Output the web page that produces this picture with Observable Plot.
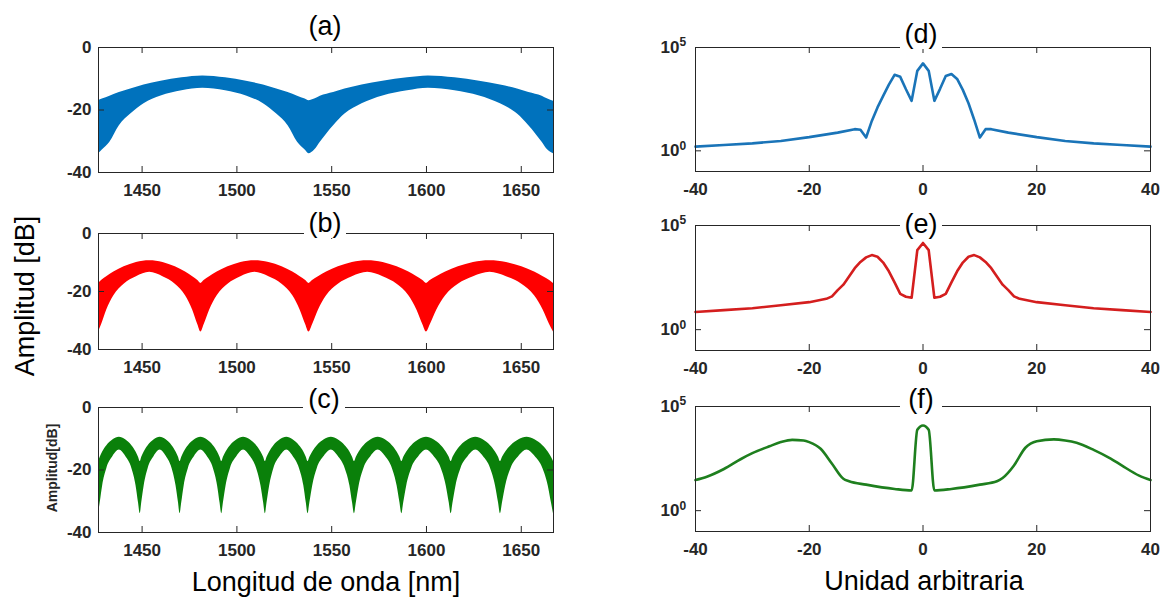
<!DOCTYPE html>
<html><head><meta charset="utf-8">
<script src="https://cdn.jsdelivr.net/npm/d3@7"></script>
<script src="https://cdn.jsdelivr.net/npm/@observablehq/plot@0.6"></script>
<style>
html,body{margin:0;padding:0;background:#fff;}
#chart{position:relative;width:1171px;height:601px;overflow:hidden;background:#fff;font-family:"Liberation Sans",Arial,sans-serif;}
#overlay{position:absolute;left:0;top:0;}
</style></head><body><div id="chart"></div>
<script>
// ---------- Left column: spectra (upper / lower envelope of the dense fringes, dB) ----------
const xTicksL = [1450, 1500, 1550, 1600, 1650];
const yTicksL = [-40, -20, 0];
const xTicksR = [-40, -20, 0, 20, 40];
const yTicksR = [1, 100000];

const wlA = [1427,1429,1433,1438,1444,1451,1460,1471,1482,1494,1505,1514,1521,1527,1532,1536,1538,
             1541,1544,1551,1557,1566,1577,1590,1601,1615,1628,1639,1648,1654,1661,1664,1667];
const upA = [-17,-16.5,-15.6,-14.4,-13.3,-12,-10.8,-9.7,-9.1,-9.7,-10.8,-12,-13.3,-14.4,-15.6,-16.5,-17,
             -16.5,-15.6,-14.4,-13.3,-12,-10.8,-9.7,-9.1,-9.7,-10.8,-12,-13.3,-14.4,-15.6,-16.5,-17.2];
const loA = [-34,-32.8,-30.3,-25,-21.3,-18,-15.5,-13.8,-13,-13.8,-15.5,-18,-21.3,-25,-30.3,-32.8,-34,
             -32.8,-30.3,-25,-21.3,-18,-15.5,-13.8,-13,-13.8,-15.5,-18,-21.3,-25,-30.3,-32.8,-34];

const wlB = [1427,1428.6,1431.3,1435.1,1440.5,1447,1454,1461,1467.5,1472.9,1476.7,1479.4,
             1481,1482.7,1485.6,1489.6,1495.3,1502.1,1509.5,1516.9,1523.8,1529.5,1533.4,1536.3,
             1538,1539.9,1543,1547.3,1553.5,1560.9,1569,1577.1,1584.5,1590.7,1595,1598.1,
             1600,1602,1605.4,1610.1,1616.8,1624.8,1633.5,1642.2,1650.3,1657,1661.6,1665,1667];
const upB = [-17.2,-16.2,-14.9,-13.3,-11.5,-10,-9.4,-10,-11.5,-13.3,-14.9,-16.2,
             -17.2,-16.2,-14.9,-13.3,-11.5,-10,-9.4,-10,-11.5,-13.3,-14.9,-16.2,
             -17.2,-16.2,-14.9,-13.3,-11.5,-10,-9.4,-10,-11.5,-13.3,-14.9,-16.2,
             -17.2,-16.2,-14.9,-13.3,-11.5,-10,-9.4,-10,-11.5,-13.3,-14.9,-16.2,-17.2];
const loB = [-34,-31.5,-26.5,-21.5,-17.5,-14.9,-13.4,-14.9,-17.5,-21.5,-26.5,-31.5,
             -34,-31.5,-26.5,-21.5,-17.5,-14.9,-13.4,-14.9,-17.5,-21.5,-26.5,-31.5,
             -34,-31.5,-26.5,-21.5,-17.5,-14.9,-13.4,-14.9,-17.5,-21.5,-26.5,-31.5,
             -34,-31.5,-26.5,-21.5,-17.5,-14.9,-13.4,-14.9,-17.5,-21.5,-26.5,-31.5,-34];

const wlC = [1427,1427.9,1429.2,1431.4,1434.7,1438,1441.3,1444.6,1446.8,1448.1,
             1449,1449.8,1451.1,1453.2,1456.4,1459.5,1462.7,1465.8,1467.9,1469.2,
             1470,1470.9,1472.2,1474.4,1477.7,1481,1484.3,1487.6,1489.8,1491.1,
             1492,1492.9,1494.3,1496.6,1500.1,1503.5,1507,1510.4,1512.7,1514.1,
             1515,1515.9,1517.3,1519.5,1522.9,1526.3,1529.6,1533,1535.3,1536.6,
             1537.5,1538.5,1540,1542.4,1546.1,1549.8,1553.4,1557.1,1559.6,1561,
             1562,1563,1564.5,1567,1570.8,1574.5,1578.3,1582,1584.5,1586,
             1587,1588,1589.6,1592.2,1596.1,1600,1603.9,1607.8,1610.4,1612,
             1613,1614,1615.6,1618.2,1622.1,1626,1629.9,1633.8,1636.4,1638,
             1639,1640.1,1641.8,1644.6,1648.8,1653,1657.2,1661.4,1664.2,1665.9,1667];
const upC = [-17.3,-15.9,-14.2,-12.2,-10.3,-9.5,-10.3,-12.2,-14.2,-15.9,
             -17.3,-15.9,-14.2,-12.2,-10.3,-9.5,-10.3,-12.2,-14.2,-15.9,
             -17.3,-15.9,-14.2,-12.2,-10.3,-9.5,-10.3,-12.2,-14.2,-15.9,
             -17.3,-15.9,-14.2,-12.2,-10.3,-9.5,-10.3,-12.2,-14.2,-15.9,
             -17.3,-15.9,-14.2,-12.2,-10.3,-9.5,-10.3,-12.2,-14.2,-15.9,
             -17.3,-15.9,-14.2,-12.2,-10.3,-9.5,-10.3,-12.2,-14.2,-15.9,
             -17.3,-15.9,-14.2,-12.2,-10.3,-9.5,-10.3,-12.2,-14.2,-15.9,
             -17.3,-15.9,-14.2,-12.2,-10.3,-9.5,-10.3,-12.2,-14.2,-15.9,
             -17.3,-15.9,-14.2,-12.2,-10.3,-9.5,-10.3,-12.2,-14.2,-15.9,
             -17.3,-15.9,-14.2,-12.2,-10.3,-9.5,-10.3,-12.2,-14.2,-15.9,-17.3];
const loC = [-34,-30.5,-25,-19.5,-15.6,-13.6,-15.6,-19.5,-25,-30.5,
             -34,-30.5,-25,-19.5,-15.6,-13.6,-15.6,-19.5,-25,-30.5,
             -34,-30.5,-25,-19.5,-15.6,-13.6,-15.6,-19.5,-25,-30.5,
             -34,-30.5,-25,-19.5,-15.6,-13.6,-15.6,-19.5,-25,-30.5,
             -34,-30.5,-25,-19.5,-15.6,-13.6,-15.6,-19.5,-25,-30.5,
             -34,-30.5,-25,-19.5,-15.6,-13.6,-15.6,-19.5,-25,-30.5,
             -34,-30.5,-25,-19.5,-15.6,-13.6,-15.6,-19.5,-25,-30.5,
             -34,-30.5,-25,-19.5,-15.6,-13.6,-15.6,-19.5,-25,-30.5,
             -34,-30.5,-25,-19.5,-15.6,-13.6,-15.6,-19.5,-25,-30.5,
             -34,-30.5,-25,-19.5,-15.6,-13.6,-15.6,-19.5,-25,-30.5,-34];

// ---------- Right column: transforms (log amplitude) ----------
const xD = [-40,-35,-30,-25,-20,-15,-12,-11,-10,-9,-8,-7,-6,-5,-4,-3,-2,-1,0,1,2,3,4,5,6,7,8,9,10,11,12,15,20,25,30,35,40];
const ampD = [1.6,1.9,2.3,3.0,4.6,7.6,11.2,10.5,4.4,28,126,457,1585,4786,3802,955,263,7413,16982,7413,263,1000,4169,5248,3020,891,200,32,4.4,11.2,11.2,7.6,4.6,3.0,2.3,1.9,1.6];

const xE = [-40,-35,-30,-25,-20,-17,-16,-15,-14,-13,-12,-11,-10,-9,-8,-7,-6,-5,-4,-3,-2,-1,0,1,2,3,4,5,6,7,8,9,10,11,12,13,14,15,16,17,20,25,30,35,40];
const ampE = [7.1,8.7,10.7,14.8,20.9,30.2,39.8,79,145,355,891,1778,2951,3802,3162,1660,631,186,52.5,38,33.9,6607,14454,6607,33.9,38,52.5,186,631,1660,3162,3802,2951,1778,891,355,145,79,39.8,30.2,20.9,14.8,10.7,8.7,7.1];

const xF = [-40,-38,-35,-32,-30,-27,-25,-23,-21,-20,-18,-16,-14,-13,-10,-5,-2,-1,0,1,2,5,10,13,14,16,18,20,23,25,27,30,33,35,38,40];
const ampF = [29.5,42.7,100,302,575,1230,1950,2512,2344,1950,933,178,33.9,25.7,17.8,11,9.3,7586,12303,7586,9.3,11,17.8,25.7,37,148,1047,2138,2630,2344,1820,832,316,145,47.9,29.5];

// ---------- layout ----------
const INK = "#262626";
const FONT = "'Liberation Sans', Arial, Helvetica, sans-serif";
const FW = 455;          // frame width
const ML = 60, MR = 10, MT = 10, MB = 30;
const chart = document.getElementById("chart");

function baseStyle() {
  return {fontFamily: FONT, fontSize: "17px", fontWeight: "bold", color: INK, background: "transparent", overflow: "visible"};
}
function ticksInward(xt, yt, H) {
  return [
    Plot.tickX(xt, {x: d => d, insetTop: H - 6, stroke: INK, strokeWidth: 1}),
    Plot.tickX(xt, {x: d => d, insetBottom: H - 6, stroke: INK, strokeWidth: 1}),
    Plot.tickY(yt, {y: d => d, insetRight: FW - 6, stroke: INK, strokeWidth: 1}),
    Plot.tickY(yt, {y: d => d, insetLeft: FW - 6, stroke: INK, strokeWidth: 1})
  ];
}
function place(svg, left, top) {
  svg.style.position = "absolute";
  svg.style.left = left + "px";
  svg.style.top = top + "px";
  chart.appendChild(svg);
}
function leftPanel(wl, up, lo, color, frameTop, H) {
  const data = wl.map((w, i) => ({w, up: up[i], lo: lo[i]}));
  const svg = Plot.plot({
    width: FW + ML + MR, height: H + MT + MB,
    marginLeft: ML, marginRight: MR, marginTop: MT, marginBottom: MB,
    style: baseStyle(),
    x: {domain: [1427, 1667], label: null},
    y: {domain: [-40, 0], label: null},
    marks: [
      Plot.areaY(data, {x: "w", y1: "lo", y2: "up", fill: color, curve: "monotone-x"}),
      Plot.frame({stroke: INK, strokeWidth: 1}),
      ...ticksInward(xTicksL, yTicksL, H),
      Plot.axisX({ticks: xTicksL, tickSize: 0, tickPadding: 11, tickFormat: d => String(d), fill: INK, label: null}),
      Plot.axisY({ticks: yTicksL, tickSize: 0, tickPadding: 7, tickFormat: d => String(d), fill: INK, label: null})
    ]
  });
  place(svg, 98 - ML, frameTop - MT);
}
function rightPanel(xs, amps, color, frameTop, H, curve) {
  const data = xs.map((x, i) => ({x, a: amps[i]}));
  const svg = Plot.plot({
    width: FW + ML + MR, height: H + MT + MB,
    marginLeft: ML, marginRight: MR, marginTop: MT, marginBottom: MB,
    style: baseStyle(),
    x: {domain: [-40, 40], label: null},
    y: {type: "log", domain: [0.1, 1e5], label: null},
    marks: [
      Plot.line(data, {x: "x", y: "a", stroke: color, strokeWidth: 2.6, strokeLinejoin: "round", curve}),
      Plot.frame({stroke: INK, strokeWidth: 1}),
      ...ticksInward(xTicksR, yTicksR, H),
      Plot.axisX({ticks: xTicksR, tickSize: 0, tickPadding: 11, tickFormat: d => String(d), fill: INK, label: null}),
      Plot.axisY({ticks: yTicksR, tickSize: 0, tickPadding: 16, tickFormat: () => "10", fill: INK, label: null}),
      Plot.text(yTicksR, {y: d => d, frameAnchor: "left", text: d => String(Math.round(Math.log10(d))),
        dx: -16, dy: -5, textAnchor: "start", fontSize: 12, fontWeight: "bold", fill: INK})
    ]
  });
  place(svg, 695 - ML, frameTop - MT);
}

leftPanel(wlA, upA, loA, "#0072BD", 47, 125);
leftPanel(wlB, upB, loB, "#FF0000", 233, 116);
leftPanel(wlC, upC, loC, "#0A800A", 407, 125);
rightPanel(xD, ampD, "#1A74B8", 47, 124, "linear");
rightPanel(xE, ampE, "#D41E1E", 225, 125, "linear");
rightPanel(xF, ampF, "#1E7F1E", 406, 125, "monotone-x");

// ---------- overlay: panel titles and axis titles ----------
const titles = [
  {t: "(a)", x: 325, y: 35}, {t: "(b)", x: 325, y: 232}, {t: "(c)", x: 324, y: 408},
  {t: "(d)", x: 921, y: 43}, {t: "(e)", x: 921, y: 233}, {t: "(f)", x: 921, y: 408}
];
const ns = "http://www.w3.org/2000/svg";
const ov = document.createElementNS(ns, "svg");
ov.setAttribute("id", "overlay");
ov.setAttribute("width", 1171);
ov.setAttribute("height", 601);
ov.setAttribute("font-family", FONT);
let html = "";
for (const d of titles) {
  html += `<rect x="${d.x - 21}" y="${d.y - 24}" width="42" height="30" fill="#fff"/>`;
  html += `<text x="${d.x}" y="${d.y}" text-anchor="middle" font-size="27" fill="#000">${d.t}</text>`;
}
html += `<text transform="translate(34,296) rotate(-90)" text-anchor="middle" font-size="27" fill="#000">Amplitud [dB]</text>`;
html += `<text transform="translate(57,468) rotate(-90)" text-anchor="middle" font-size="14" font-weight="bold" fill="${INK}">Amplitud[dB]</text>`;
html += `<text x="326" y="591" text-anchor="middle" font-size="27" fill="#000">Longitud de onda [nm]</text>`;
html += `<text x="924" y="590" text-anchor="middle" font-size="27" fill="#000">Unidad arbitraria</text>`;
ov.innerHTML = html;
chart.appendChild(ov);
</script></body></html>
